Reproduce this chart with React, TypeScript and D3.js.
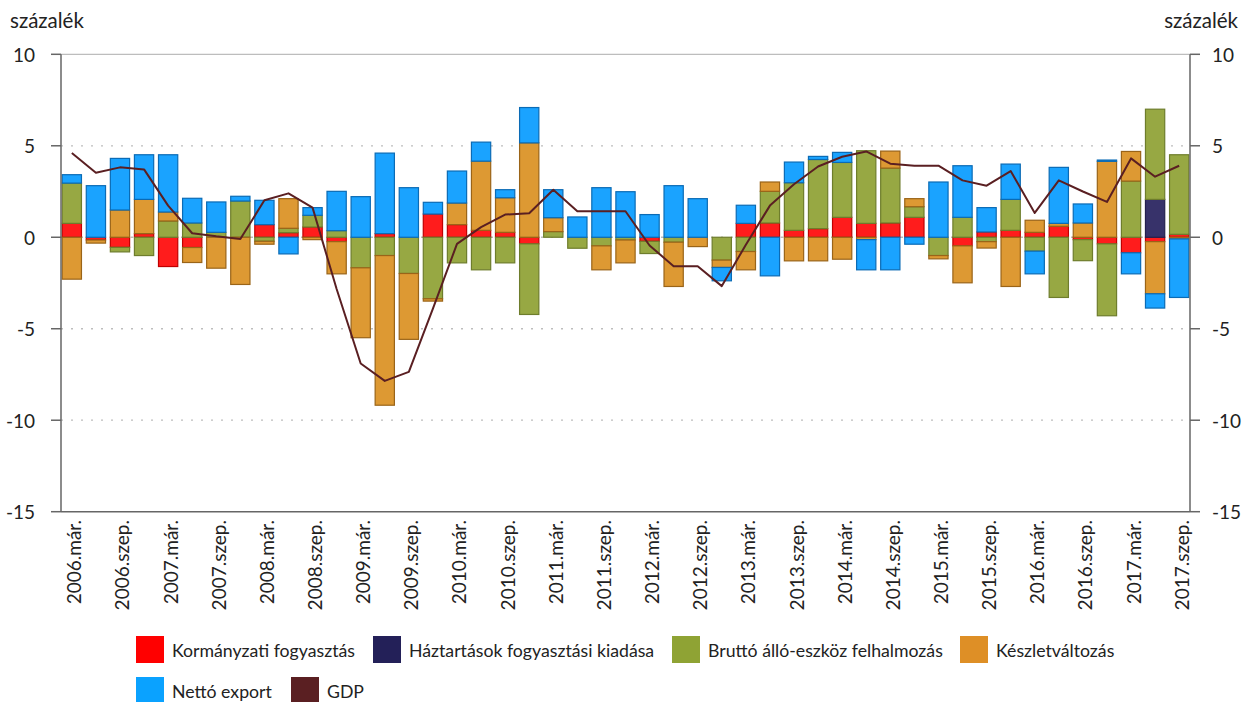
import React from "react";
import * as d3 from "d3";

const periods: string[] = [];
for (let yr = 2006; yr <= 2017; yr++) {
  for (const q of ["már.", "jún.", "szep.", "dec."]) {
    if (yr === 2017 && q === "dec.") continue;
    periods.push(`${yr}.${q}`);
  }
}
const tickLabelIdx = periods.map((_, i) => i).filter((i) => i % 2 === 0);

const govCons = [0.76,-0.15,-0.55,0.2,-1.6,-0.56,0,0,0.69,0.25,0.56,-0.24,0,0.2,0,1.27,0.69,0.38,0.27,-0.36,0,0,0,0,-0.22,0,0,0,0.76,0.78,0.38,0.47,1.09,0.76,0.78,1.09,0,-0.47,0.29,0.38,0.27,0.6,-0.13,-0.36,-0.85,-0.24,0.16];
const hhCons = [0,0,0,0,0,0,0,0,0,0,0,0,0,0,0,0,0,0,0,0,0,0,0,0,0,0,0,0,0,0,0,0,0,0,0,0,0,0,0,0,0,0,0,0,0,2.07,0];
const gfcf = [2.2,0,-0.25,-1.0,0.89,0.78,0.27,1.98,-0.22,0.24,0.64,0.36,-1.67,-1.0,-1.98,-3.36,-1.4,-1.78,-1.4,-3.86,0.31,-0.6,-0.47,-0.15,-0.67,-0.27,0,-1.25,-0.78,1.73,2.6,3.78,3.0,3.97,3.0,0.58,-1.0,1.09,-0.24,1.69,-0.76,-3.29,-1.15,-3.93,3.07,4.93,4.35];
const invChange = [-2.29,-0.17,1.49,1.87,0.49,-0.82,-1.69,-2.58,-0.16,1.62,-0.13,-1.76,-3.82,-8.18,-3.6,-0.13,1.18,3.78,1.89,5.16,0.76,0,-1.31,-1.25,0,-2.42,-0.51,-0.4,-1.0,0.51,-1.29,-1.29,-1.2,-0.13,0.93,0.44,-0.18,-2.02,-0.35,-2.69,0.66,0.16,0.78,4.15,1.62,-2.85,-0.09];
const netExport = [0.46,2.82,2.82,2.44,3.13,1.35,1.66,0.26,1.33,-0.91,0.42,2.15,2.22,4.4,2.71,0.64,1.75,1.04,0.44,1.93,1.53,1.11,2.71,2.49,1.24,2.82,2.11,-0.73,0.99,-2.11,1.13,0.17,0.55,-1.65,-1.78,-0.38,3.02,2.82,1.33,1.93,-1.24,3.06,1.04,0.07,-1.15,-0.78,-3.2];
const gdp = [4.6,3.53,3.82,3.71,1.73,0.22,0.05,-0.09,2.02,2.4,1.62,-2.83,-6.9,-7.85,-7.36,-3.9,-0.36,0.55,1.24,1.31,2.6,1.42,1.42,1.42,-0.45,-1.58,-1.58,-2.67,-0.41,1.73,2.9,3.87,4.4,4.69,4.02,3.91,3.91,3.11,2.82,3.62,1.33,3.11,2.5,1.93,4.31,3.31,3.91];

const yTicks = [10, 5, 0, -5, -10, -15];

const seriesNames = [
  "Kormányzati fogyasztás",
  "Háztartások fogyasztási kiadása",
  "Bruttó álló-eszköz felhalmozás",
  "Készletváltozás",
  "Nettó export",
];
const keys = ["gov", "hh", "gfcf", "inv", "nx"];
const fills = ["#FF1C1C", "#37326A", "#97A843", "#DD9933", "#1AA3FF"];
const strokes = ["#C00000", "#24204E", "#6E7D2C", "#9A6418", "#0B6BB5"];
const legendColors = ["#FF0000", "#232058", "#8FA334", "#DE8F26", "#0AA2FF", "#5A1F22"];
const gdpName = "GDP";

const FONT = "Lato, 'Open Sans', sans-serif";

export default function App() {
  const W = 1250, H = 702;
  const left = 61, right = 1190, top = 54.3, bottom = 511.7;

  const rows = periods.map((p, i) => ({
    gov: govCons[i], hh: hhCons[i], gfcf: gfcf[i], inv: invChange[i], nx: netExport[i],
  }));
  const stacked = d3.stack<any>().keys(keys).offset(d3.stackOffsetDiverging)(rows);

  const x = d3.scaleBand<number>().domain(d3.range(periods.length)).range([left, right]).paddingInner(0.2).paddingOuter(0.05);
  const y = d3.scaleLinear().domain([-15, 10]).range([bottom, top]);
  const bw = x.bandwidth();
  const cx = (i: number) => (x(i) as number) + bw / 2;

  const line = d3.line<number>().x((_, i) => cx(i)).y((d) => y(d));

  const legendItems = [
    { name: seriesNames[0], color: legendColors[0], x: 136, y: 636 },
    { name: seriesNames[1], color: legendColors[1], x: 373, y: 636 },
    { name: seriesNames[2], color: legendColors[2], x: 672, y: 636 },
    { name: seriesNames[3], color: legendColors[3], x: 960, y: 636 },
    { name: seriesNames[4], color: legendColors[4], x: 136, y: 677 },
    { name: gdpName, color: legendColors[5], x: 291, y: 677 },
  ];

  return (
    <svg width={W} height={H} style={{ position: "absolute", left: 0, top: 0, background: "#fff" }} fontFamily={FONT}>
      {/* gridlines */}
      {yTicks.filter((t) => t !== -15).map((t) => (
        <line key={t} x1={left} x2={right} y1={y(t)} y2={y(t)} stroke="#BDBDBD" strokeWidth={1.3} strokeDasharray={t === 10 ? undefined : "2,8"} />
      ))}
      {/* bars */}
      {stacked.map((s, k) => (
        <g key={keys[k]}>
          {s.map((d, i) => {
            const v = d[1] - d[0];
            if (Math.abs(v) < 1e-9) return null;
            const y0 = y(Math.max(d[0], d[1]));
            const y1 = y(Math.min(d[0], d[1]));
            return (
              <rect key={i} x={x(i)} y={y0} width={bw} height={y1 - y0} fill={fills[k]} stroke={strokes[k]} strokeWidth={1.2} />
            );
          })}
        </g>
      ))}
      {/* GDP line */}
      <path d={line(gdp) || ""} fill="none" stroke="#5A1F22" strokeWidth={2} strokeLinejoin="round" />
      {/* axes */}
      <line x1={left} x2={left} y1={top} y2={bottom} stroke="#666" strokeWidth={1.5} />
      <line x1={right} x2={right} y1={top} y2={bottom} stroke="#666" strokeWidth={1.5} />
      <line x1={left} x2={right} y1={bottom} y2={bottom} stroke="#666" strokeWidth={1.5} />
      {yTicks.map((t) => (
        <g key={"t" + t}>
          <line x1={left - 10} x2={left} y1={y(t)} y2={y(t)} stroke="#666" strokeWidth={1.5} />
          <line x1={right} x2={right + 10} y1={y(t)} y2={y(t)} stroke="#666" strokeWidth={1.5} />
          <text x={35} y={y(t)} textAnchor="end" dominantBaseline="central" fontSize={19} fill="#222">{t}</text>
          <text x={1212} y={y(t)} textAnchor="start" dominantBaseline="central" fontSize={19} fill="#222">{t}</text>
        </g>
      ))}
      <text x={10} y={28} fontSize={20.5} fill="#222">százalék</text>
      <text x={1238} y={28} fontSize={20.5} fill="#222" textAnchor="end">százalék</text>
      {/* x labels */}
      {tickLabelIdx.map((i) => (
        <text key={"x" + i} transform={`translate(${cx(i) + 2},520) rotate(-90)`} textAnchor="end" dominantBaseline="central" fontSize={19} fill="#222">
          {periods[i]}
        </text>
      ))}
      {/* legend */}
      {legendItems.map((it) => (
        <g key={it.name}>
          <rect x={it.x} y={it.y} width={28} height={27} fill={it.color} />
          <text x={it.x + 36} y={it.y + 14} dominantBaseline="central" fontSize={17.7} fill="#222">{it.name}</text>
        </g>
      ))}
    </svg>
  );
}
